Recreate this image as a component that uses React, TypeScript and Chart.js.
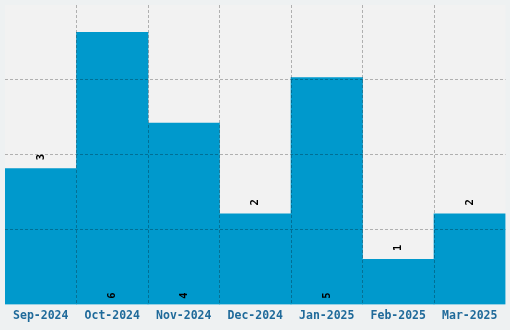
import React, { useEffect, useRef } from "react";
import { Chart, registerables } from "chart.js";

Chart.register(...registerables);

const categories = ["Sep-2024", "Oct-2024", "Nov-2024", "Dec-2024", "Jan-2025", "Feb-2025", "Mar-2025"];
const counts = [3, 6, 4, 2, 5, 1, 2];
const yMax = 6.6;
const yStep = 1.65;
const insideThreshold = 4;

const GRID = "rgba(0,0,0,0.27)";

const bgPlugin = {
  id: "bgPlugin",
  beforeDraw(chart: any) {
    const { ctx, chartArea, width, height } = chart;
    ctx.save();
    ctx.fillStyle = "#eef1f2";
    ctx.fillRect(0, 0, width, height);
    ctx.fillStyle = "#f2f2f2";
    ctx.fillRect(chartArea.left, chartArea.top, chartArea.right - chartArea.left, chartArea.bottom - chartArea.top);
    ctx.restore();
  },
};

const labelPlugin = {
  id: "labelPlugin",
  afterDraw(chart: any) {
    const { ctx } = chart;
    const meta = chart.getDatasetMeta(0);
    const data = chart.data.datasets[0].data as number[];
    ctx.save();
    ctx.font = "bold 10.5px 'DejaVu Sans Mono', monospace";
    ctx.fillStyle = "#000000";
    ctx.textAlign = "center";
    ctx.textBaseline = "middle";
    meta.data.forEach((bar: any, i: number) => {
      const v = data[i];
      const x = bar.x + 0.5;
      const y = v >= insideThreshold ? bar.base - 8.5 : bar.y - 11.5;
      ctx.save();
      ctx.translate(x, y);
      ctx.rotate(-Math.PI / 2);
      ctx.fillText(String(v), 0, 0);
      ctx.restore();
    });
    ctx.restore();
  },
};

export default function App() {
  const ref = useRef<HTMLCanvasElement | null>(null);

  useEffect(() => {
    document.body.style.margin = "0";
    if (!ref.current) return;
    const chart = new Chart(ref.current, {
      type: "bar",
      data: {
        labels: categories,
        datasets: [
          {
            data: counts,
            backgroundColor: "#0099cc",
            borderWidth: 0,
            barPercentage: 1,
            categoryPercentage: 1,
          },
        ],
      },
      options: {
        animation: false,
        responsive: false,
        maintainAspectRatio: false,
        layout: { padding: { left: 5, right: 4.5, top: 5, bottom: 3.5 } },
        plugins: {
          legend: { display: false },
          tooltip: { enabled: false },
        },
        scales: {
          x: {
            grid: {
              z: 1,
              drawTicks: false,
              lineWidth: 1,
              color: (ctx: any) => (ctx.type === "tick" && ctx.index > 0 ? GRID : "transparent"),
            },
            border: { display: false, dash: [3, 2] },
            ticks: {
              padding: 4,
              color: "#1f6a9a",
              font: { family: "'DejaVu Sans Mono', monospace", size: 11.5, weight: "bold" },
              maxRotation: 0,
              autoSkip: false,
            },
          },
          y: {
            min: 0,
            max: yMax,
            grid: {
              z: 1,
              drawTicks: false,
              lineWidth: 1,
              color: (ctx: any) => (ctx.type === "tick" && ctx.index > 0 && ctx.index < 4 ? GRID : "transparent"),
            },
            border: { display: false, dash: [3, 2] },
            ticks: { display: false, stepSize: yStep },
          },
        },
      },
      plugins: [bgPlugin, labelPlugin],
    });
    return () => chart.destroy();
  }, []);

  return <canvas ref={ref} width={510} height={330} style={{ display: "block" }} />;
}
